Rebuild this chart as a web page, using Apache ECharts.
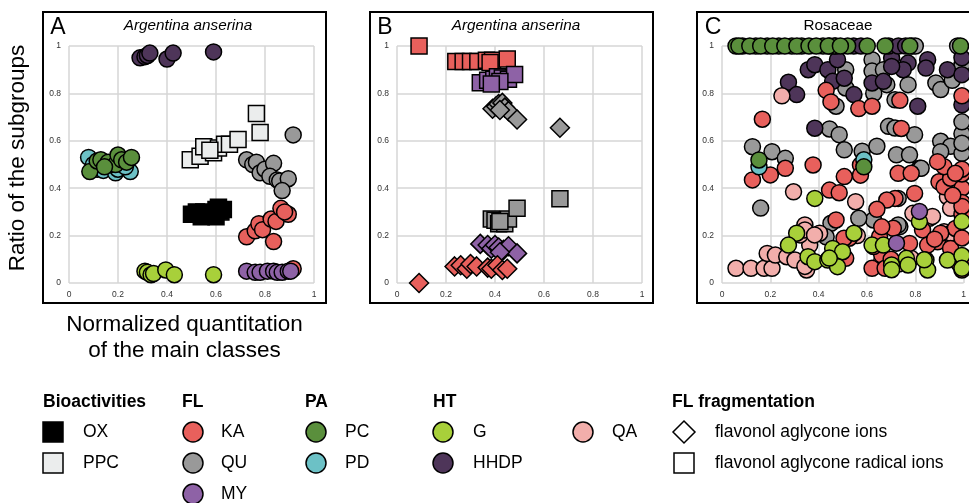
<!DOCTYPE html>
<html><head><meta charset="utf-8">
<script src="https://cdn.jsdelivr.net/npm/echarts@6/dist/echarts.min.js"></script>
<style>html,body{margin:0;padding:0;background:#fff}#c{width:969px;height:503px}</style>
</head><body><div id="c"></div>
<script>
// ---------- DATA ----------
const axisTicks = [0, 0.2, 0.4, 0.6, 0.8, 1];
const panelTitles = ['Argentina anserina', 'Argentina anserina', 'Rosaceae'];
const panelLetters = ['A', 'B', 'C'];

// Panel A (Argentina anserina)
const A_HHDP = [[0.29,0.95],[0.31,0.955],[0.32,0.96],[0.33,0.97],[0.40,0.945],[0.425,0.97],[0.59,0.975]];
const A_PD = [[0.08,0.53],[0.10,0.50],[0.115,0.48],[0.14,0.475],[0.19,0.465],[0.20,0.48],[0.25,0.47],[0.17,0.50],[0.23,0.49]];
const A_PC = [[0.085,0.47],[0.115,0.515],[0.13,0.52],[0.16,0.51],[0.19,0.50],[0.20,0.54],[0.215,0.52],[0.235,0.51],[0.255,0.53],[0.145,0.49]];
const A_PPC = [[0.495,0.52],[0.535,0.535],[0.55,0.575],[0.59,0.55],[0.61,0.57],[0.635,0.585],[0.655,0.585],[0.69,0.605],[0.765,0.715],[0.78,0.635],[0.575,0.56]];
const A_QU = [[0.725,0.52],[0.75,0.50],[0.765,0.51],[0.78,0.465],[0.80,0.48],[0.835,0.505],[0.82,0.45],[0.85,0.435],[0.86,0.43],[0.895,0.44],[0.87,0.39],[0.915,0.625]];
const A_OX = [[0.50,0.29],[0.52,0.30],[0.54,0.28],[0.56,0.295],[0.58,0.285],[0.60,0.31],[0.61,0.32],[0.62,0.30],[0.55,0.30],[0.60,0.28],[0.63,0.31]];
const A_KA = [[0.725,0.195],[0.76,0.22],[0.775,0.25],[0.79,0.225],[0.825,0.27],[0.835,0.175],[0.845,0.26],[0.865,0.315],[0.895,0.29],[0.88,0.30],[0.915,0.06]];
const A_MY = [[0.725,0.05],[0.76,0.045],[0.78,0.045],[0.81,0.05],[0.835,0.05],[0.85,0.045],[0.87,0.045],[0.895,0.05],[0.905,0.05]];
const A_G = [[0.31,0.05],[0.32,0.045],[0.335,0.035],[0.345,0.04],[0.395,0.055],[0.43,0.035],[0.59,0.035]];

// Panel B (flavonol fragmentation): squares = radical ions, diamonds = ions
const B_KA_sq = [[0.09,1.0],[0.24,0.935],[0.27,0.935],[0.30,0.935],[0.33,0.935],[0.365,0.94],[0.39,0.94],[0.45,0.945],[0.38,0.93]];
const B_MY_sq = [[0.34,0.845],[0.37,0.855],[0.395,0.86],[0.41,0.87],[0.43,0.865],[0.455,0.86],[0.48,0.88],[0.42,0.85],[0.385,0.84]];
const B_QU_dia = [[0.39,0.735],[0.405,0.745],[0.415,0.755],[0.43,0.76],[0.44,0.74],[0.455,0.725],[0.49,0.69],[0.665,0.655],[0.42,0.73]];
const B_QU_sq = [[0.385,0.27],[0.40,0.265],[0.415,0.25],[0.44,0.25],[0.455,0.27],[0.49,0.315],[0.665,0.355],[0.42,0.26]];
const B_MY_dia = [[0.34,0.165],[0.37,0.16],[0.385,0.145],[0.40,0.16],[0.415,0.15],[0.435,0.14],[0.455,0.155],[0.49,0.125],[0.42,0.13]];
const B_KA_dia = [[0.09,0.0],[0.235,0.07],[0.26,0.075],[0.285,0.06],[0.30,0.08],[0.325,0.07],[0.37,0.065],[0.385,0.06],[0.41,0.075],[0.43,0.055],[0.45,0.06]];

// Panel C (Rosaceae)
const C_QU = [[0.512,0.9],[0.621,0.942],[0.621,0.894],[0.668,0.9],[0.682,0.837],[0.628,0.8],[0.716,0.773],[0.77,0.837],[0.885,0.844],[0.905,0.816],[0.953,0.855],[0.993,0.92],[0.472,0.746],[0.512,0.823],[0.689,0.661],[0.716,0.654],[0.797,0.626],[0.445,0.65],[0.485,0.626],[0.506,0.562],[0.58,0.556],[0.641,0.577],[0.722,0.541],[0.776,0.541],[0.905,0.598],[0.946,0.577],[0.993,0.63],[0.993,0.68],[0.126,0.575],[0.207,0.554],[0.262,0.526],[0.16,0.316],[0.627,0.266],[0.566,0.273],[0.424,0.203],[0.451,0.252],[0.736,0.238],[0.817,0.484],[0.905,0.554],[0.993,0.547],[0.431,0.195],[0.729,0.357],[0.729,0.245],[0.824,0.484],[0.785,1.0],[0.80,1.0],[0.975,1.0],[0.993,0.59]];
const C_HHDP = [[0.275,0.847],[0.309,0.795],[0.357,0.9],[0.384,0.921],[0.438,0.9],[0.478,0.942],[0.458,0.851],[0.506,0.864],[0.546,0.795],[0.621,0.844],[0.668,0.851],[0.702,0.949],[0.77,0.928],[0.75,0.9],[0.81,0.746],[0.851,0.942],[0.844,0.907],[0.933,0.9],[0.993,0.879],[0.993,0.95],[0.993,0.752],[0.384,0.653],[0.702,0.914],[0.445,1.0],[0.47,1.0],[0.545,1.0],[0.575,1.0],[0.69,1.0],[0.73,1.0],[0.76,1.0]];
const C_KA = [[0.167,0.691],[0.126,0.435],[0.2,0.456],[0.262,0.484],[0.377,0.498],[0.431,0.813],[0.451,0.764],[0.566,0.736],[0.621,0.746],[0.736,0.771],[0.742,0.652],[0.506,0.449],[0.445,0.392],[0.485,0.381],[0.573,0.498],[0.573,0.455],[0.729,0.463],[0.783,0.463],[0.797,0.378],[0.716,0.357],[0.682,0.35],[0.641,0.311],[0.472,0.266],[0.709,0.231],[0.526,0.189],[0.776,0.167],[0.892,0.174],[0.946,0.146],[0.898,0.427],[0.919,0.406],[0.946,0.442],[0.993,0.4],[0.993,0.46],[0.993,0.48],[0.993,0.34],[0.993,0.29],[0.966,0.23],[0.993,0.19],[0.621,0.062],[0.661,0.118],[0.648,0.167],[0.652,0.195],[0.661,0.237],[0.512,0.104],[0.919,0.491],[0.98,0.083],[0.993,0.055],[0.675,0.062],[0.851,0.16],[0.83,0.224],[0.905,0.21],[0.627,0.154],[0.892,0.512],[0.966,0.463],[0.993,0.79],[0.993,0.323],[0.993,0.098],[0.955,0.37],[0.88,0.185],[0.505,0.189],[0.70,0.10]];
const C_QA = [[0.058,0.062],[0.12,0.062],[0.174,0.062],[0.207,0.062],[0.187,0.125],[0.221,0.118],[0.296,0.385],[0.343,0.245],[0.268,0.111],[0.302,0.097],[0.35,0.055],[0.553,0.343],[0.363,0.16],[0.404,0.21],[0.783,0.104],[0.858,0.273],[0.79,0.294],[0.919,0.216],[0.933,0.364],[0.946,0.315],[0.323,0.203],[0.343,0.224],[0.383,0.203],[0.343,0.07],[0.248,0.79],[0.871,0.281],[0.946,0.21],[0.56,0.2],[0.73,0.08],[0.66,0.09]];
const C_G = [[0.384,0.357],[0.309,0.21],[0.275,0.16],[0.356,0.111],[0.384,0.09],[0.438,0.097],[0.458,0.146],[0.499,0.132],[0.478,0.069],[0.546,0.21],[0.621,0.16],[0.668,0.16],[0.702,0.076],[0.763,0.104],[0.77,0.076],[0.817,0.259],[0.844,0.097],[0.851,0.055],[0.933,0.097],[0.993,0.259],[0.993,0.116],[0.993,0.062],[0.444,0.105],[0.702,0.056],[0.837,0.098]];
const C_MY = [[0.817,0.302],[0.722,0.168]];
const C_PD = [[0.153,0.49],[0.587,0.52]];
const C_PC = [[0.058,1.0],[0.085,1.0],[0.14,1.0],[0.187,1.0],[0.235,1.0],[0.289,1.0],[0.33,1.0],[0.418,1.0],[0.465,1.0],[0.52,1.0],[0.601,1.0],[0.675,1.0],[0.777,1.0],[0.987,1.0],[0.07,1.0],[0.115,1.0],[0.16,1.0],[0.21,1.0],[0.26,1.0],[0.31,1.0],[0.36,1.0],[0.39,1.0],[0.44,1.0],[0.49,1.0],[0.153,0.519],[0.587,0.49]];

// ---------- STYLE ----------
const COL = {KA:'#e8605c', QU:'#999999', MY:'#8e62a6', PC:'#5a8f3c', PD:'#6cc1c6', G:'#a8d03a', HHDP:'#4e3559', QA:'#f2aeab', OX:'#000000', PPC:'#ebeded'};
const FONT = 'Liberation Sans, Arial, sans-serif';

function sc(name, data, gi, color, symbol, size) {
  return {
    type: 'scatter', name, data, xAxisIndex: gi, yAxisIndex: gi,
    symbol: symbol || 'circle', symbolSize: size || 16, clip: false,
    itemStyle: {color, borderColor: '#000', borderWidth: 1.5, opacity: 1},
    emphasis: {disabled: true}
  };
}

const grids = [
  {left: 69, top: 46, width: 245, height: 237},
  {left: 397, top: 46, width: 245, height: 237},
  {left: 722, top: 46, width: 246, height: 237}
];
const lbl = {fontSize: 8.5, color: '#333', fontFamily: FONT, formatter: v => String(+v.toFixed(1))};
const mkX = i => ({
  type: 'value', gridIndex: i, min: 0, max: 1, interval: 0.2,
  axisLine: {show: false}, axisTick: {show: false},
  axisLabel: Object.assign({margin: 7}, lbl),
  splitLine: {show: true, lineStyle: {color: '#d6d6d6', width: 1.5}}
});
const mkY = i => ({
  type: 'value', gridIndex: i, min: 0, max: 1, interval: 0.2,
  axisLine: {show: false}, axisTick: {show: false},
  axisLabel: Object.assign({margin: 8}, lbl),
  splitLine: {show: true, lineStyle: {color: '#d6d6d6', width: 1.5}}
});

const series = [
  // A
  sc('PD', A_PD, 0, COL.PD), sc('PC', A_PC, 0, COL.PC),
  sc('HHDP', A_HHDP, 0, COL.HHDP), sc('PPC', A_PPC, 0, COL.PPC, 'rect', 16),
  sc('QU', A_QU, 0, COL.QU), sc('OX', A_OX, 0, COL.OX, 'rect', 16),
  sc('KA', A_KA, 0, COL.KA), sc('MY', A_MY, 0, COL.MY), sc('G', A_G, 0, COL.G),
  // B
  sc('KA', B_KA_sq, 1, COL.KA, 'rect', 16), sc('MY', B_MY_sq, 1, COL.MY, 'rect', 16),
  sc('QU', B_QU_dia, 1, COL.QU, 'diamond', 19), sc('QU', B_QU_sq, 1, COL.QU, 'rect', 16),
  sc('MY', B_MY_dia, 1, COL.MY, 'diamond', 19), sc('KA', B_KA_dia, 1, COL.KA, 'diamond', 19),
  // C
  sc('QU', C_QU, 2, COL.QU), sc('HHDP', C_HHDP, 2, COL.HHDP), sc('QA', C_QA, 2, COL.QA),
  sc('KA', C_KA, 2, COL.KA), sc('G', C_G, 2, COL.G), sc('MY', C_MY, 2, COL.MY),
  sc('PD', C_PD, 2, COL.PD), sc('PC', C_PC, 2, COL.PC)
];

// ---------- LEGEND (drawn as graphic) ----------
const legendHeaders = [['Bioactivities',43],['FL',182],['PA',305],['HT',433],['FL fragmentation',672]];
const legendItems = [
  // [label, color, shape, iconX, textX, row]
  ['OX', COL.OX, 'square', 53, 83, 0], ['PPC', COL.PPC, 'square', 53, 83, 1],
  ['KA', COL.KA, 'circle', 193, 221, 0], ['QU', COL.QU, 'circle', 193, 221, 1], ['MY', COL.MY, 'circle', 193, 221, 2],
  ['PC', COL.PC, 'circle', 316, 345, 0], ['PD', COL.PD, 'circle', 316, 345, 1],
  ['G', COL.G, 'circle', 443, 473, 0], ['HHDP', COL.HHDP, 'circle', 443, 473, 1],
  ['QA', COL.QA, 'circle', 583, 612, 0],
  ['flavonol aglycone ions', '#fff', 'diamond', 684, 715, 0],
  ['flavonol aglycone radical ions', '#fff', 'square', 684, 715, 1]
];
const rowY = [432, 463, 494];
const g = [];
// panel boxes
[[43,12,283,291],[370,12,283,291],[697,12,300,291]].forEach(b => g.push({
  type: 'rect', shape: {x: b[0], y: b[1], width: b[2], height: b[3]},
  style: {fill: 'none', stroke: '#000', lineWidth: 2}, z: 10
}));
// panel letters and titles
[[58,188],[385,516],[713,838]].forEach((p, i) => {
  g.push({type: 'text', x: p[0], y: 28, style: {text: panelLetters[i], font: '23px ' + FONT, fill: '#000', textAlign: 'center', textVerticalAlign: 'middle'}, z: 11});
  g.push({type: 'text', x: p[1], y: 26, style: {text: panelTitles[i], font: (i < 2 ? 'italic ' : '') + '15.3px ' + FONT, fill: '#000', textAlign: 'center', textVerticalAlign: 'middle'}, z: 11});
});
// axis titles
g.push({type: 'text', x: 18, y: 158, rotation: Math.PI / 2, style: {text: 'Ratio of the subgroups', font: '22.5px ' + FONT, fill: '#000', textAlign: 'center', textVerticalAlign: 'middle'}});
g.push({type: 'text', x: 184.5, y: 325, style: {text: 'Normalized quantitation', font: '22.5px ' + FONT, fill: '#000', textAlign: 'center', textVerticalAlign: 'middle'}});
g.push({type: 'text', x: 184.5, y: 351, style: {text: 'of the main classes', font: '22.5px ' + FONT, fill: '#000', textAlign: 'center', textVerticalAlign: 'middle'}});
// legend
legendHeaders.forEach(h => g.push({type: 'text', x: h[1], y: 402, style: {text: h[0], font: 'bold 17.5px ' + FONT, fill: '#000', textVerticalAlign: 'middle'}}));
legendItems.forEach(it => {
  const [label, color, shape, ix, tx, r] = it;
  const y = rowY[r];
  const st = {fill: color, stroke: '#000', lineWidth: 1.5};
  if (shape === 'circle') g.push({type: 'circle', shape: {cx: ix, cy: y, r: 10}, style: st});
  else if (shape === 'square') g.push({type: 'rect', shape: {x: ix - 10, y: y - 10, width: 20, height: 20}, style: st});
  else g.push({type: 'polygon', shape: {points: [[ix, y - 11], [ix + 11, y], [ix, y + 11], [ix - 11, y]]}, style: st});
  g.push({type: 'text', x: tx, y: y, style: {text: label, font: '17.5px ' + FONT, fill: '#000', textVerticalAlign: 'middle'}});
});

const chart = echarts.init(document.getElementById('c'), null, {renderer: 'canvas'});
chart.setOption({
  animation: false,
  backgroundColor: '#fff',
  grid: grids,
  xAxis: [mkX(0), mkX(1), mkX(2)],
  yAxis: [mkY(0), mkY(1), mkY(2)],
  series,
  graphic: g
});
</script></body></html>
